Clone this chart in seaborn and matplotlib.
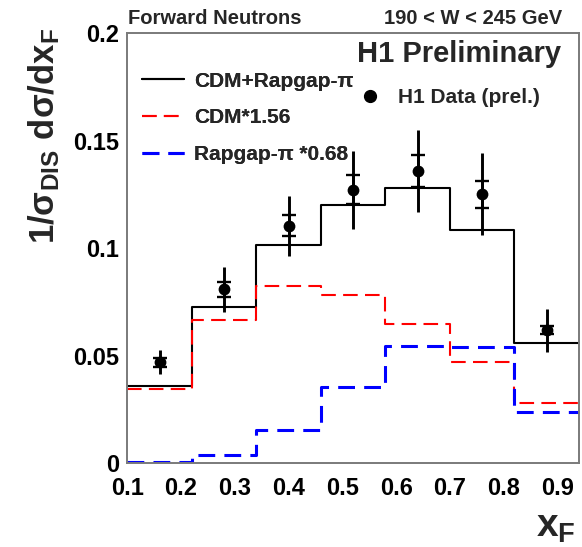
import numpy as np
import pandas as pd
import seaborn as sns
import matplotlib
matplotlib.use("Agg")
import matplotlib.pyplot as plt
from matplotlib.lines import Line2D
from matplotlib.legend import Legend

# ---- data ----
bin_edges = [0.10, 0.22, 0.34, 0.46, 0.58, 0.70, 0.82, 0.94]
cdm_plus_rapgap = [0.036, 0.0725, 0.1015, 0.120, 0.128, 0.1085, 0.056]
cdm_scaled = [0.0345, 0.0665, 0.0825, 0.0785, 0.065, 0.047, 0.028]
rapgap_scaled = [0.0005, 0.004, 0.0157, 0.0357, 0.0545, 0.0542, 0.024]

data_x = [0.16, 0.28, 0.40, 0.52, 0.64, 0.76, 0.88]
data_y = [0.047, 0.081, 0.1105, 0.1272, 0.1359, 0.1251, 0.062]
err_total = [0.0055, 0.0105, 0.014, 0.018, 0.019, 0.019, 0.010]
err_stat = [0.002, 0.0035, 0.005, 0.0067, 0.0073, 0.0064, 0.002]

x_ticks = [0.1, 0.2, 0.3, 0.4, 0.5, 0.6, 0.7, 0.8, 0.9]
x_tick_labels = ["0.1", "0.2", "0.3", "0.4", "0.5", "0.6", "0.7", "0.8", "0.9"]
y_ticks = [0.0, 0.05, 0.10, 0.15, 0.20]
y_tick_labels = ["0", "0.05", "0.1", "0.15", "0.2"]

series_labels = ["CDM+Rapgap-\u03c0", "CDM*1.56", "Rapgap-\u03c0 *0.68"]
data_label = "H1 Data (prel.)"

# ---- style ----
sns.set_theme(style="white")
plt.rcParams["font.family"] = ["Liberation Sans", "DejaVu Sans"]
plt.rcParams["font.weight"] = "bold"
plt.rcParams["mathtext.fontset"] = "custom"
plt.rcParams["mathtext.rm"] = "Liberation Sans:bold"
plt.rcParams["mathtext.bf"] = "Liberation Sans:bold"
plt.rcParams["mathtext.it"] = "Liberation Sans:bold"

frame_col = "#7a7a7a"

fig = plt.figure(figsize=(5.82, 5.47), dpi=100)
ax = fig.add_axes([0.2187, 0.1530, 0.7761, 0.7861])

def step_frame(vals):
    return pd.DataFrame({"x": bin_edges, "y": list(vals) + [vals[-1]]})

sns.lineplot(data=step_frame(cdm_plus_rapgap), x="x", y="y", ax=ax,
             drawstyle="steps-post", color="black", linewidth=1.5,
             sort=False, estimator=None)
sns.lineplot(data=step_frame(cdm_scaled), x="x", y="y", ax=ax,
             drawstyle="steps-post", color="#ff0000", linewidth=1.5,
             linestyle=(0, (7, 3.5)), sort=False, estimator=None)
sns.lineplot(data=step_frame(rapgap_scaled), x="x", y="y", ax=ax,
             drawstyle="steps-post", color="#0000ff", linewidth=2.2,
             linestyle=(0, (5.5, 3)), sort=False, estimator=None)
model_lines = list(ax.lines[:3])

# data points with total (line) and statistical (ticks) errors
ax.errorbar(data_x, data_y, yerr=err_total, fmt="none", ecolor="black",
            elinewidth=2.1, capsize=0, zorder=4)
ax.errorbar(data_x, data_y, yerr=err_stat, fmt="none", ecolor="black",
            elinewidth=2.1, capsize=4.8, capthick=1.7, zorder=4)
pts = pd.DataFrame({"x": data_x, "y": data_y})
sns.scatterplot(data=pts, x="x", y="y", ax=ax, color="black", s=72,
                edgecolor="black", linewidth=0, zorder=5)

ax.set_xlim(0.10, 0.94)
ax.set_ylim(0.0, 0.20)
ax.set_xticks(x_ticks)
ax.set_xticklabels(x_tick_labels)
ax.set_yticks(y_ticks)
ax.set_yticklabels(y_tick_labels)
ax.tick_params(axis="both", direction="in", length=10, width=1.1,
               color=frame_col, labelsize=17, labelcolor="black")
ax.tick_params(axis="x", pad=10)
ax.tick_params(axis="y", pad=6)
for lab in ax.get_xticklabels() + ax.get_yticklabels():
    lab.set_fontweight("bold")
for sp in ax.spines.values():
    sp.set_color(frame_col)
    sp.set_linewidth(1.4)
    sp.set_visible(True)
ax.set_xlabel("")
ax.set_ylabel("")

# legends
leg1 = ax.legend(model_lines, series_labels, loc="upper left",
                 bbox_to_anchor=(0.033, 0.911), frameon=False,
                 prop={"size": 15, "weight": "bold"}, handlelength=2.0,
                 handletextpad=0.5, labelspacing=0.85, borderpad=0,
                 borderaxespad=0)
ax.add_artist(leg1)
data_handle = Line2D([], [], marker="o", linestyle="none", color="black",
                     markersize=8.5)
leg2 = Legend(ax, [data_handle], [data_label], loc="upper left",
              bbox_to_anchor=(0.514, 0.872), frameon=False,
              prop={"size": 15, "weight": "bold"}, handlelength=1.0,
              handletextpad=0.85, borderpad=0, borderaxespad=0)
ax.add_artist(leg2)

# texts
ax.text(0.960, 0.953, "H1 Preliminary", transform=ax.transAxes,
        ha="right", va="center", fontsize=21, fontweight="bold")
fig.text(128 / 582, 1 - 18 / 547, "Forward Neutrons", ha="left",
         va="center", fontsize=14.5, fontweight="bold")
fig.text(562 / 582, 1 - 18 / 547, "190 < W < 245 GeV", ha="right",
         va="center", fontsize=14.5, fontweight="bold")
fig.text(44 / 582, 1 - 28 / 547,
         r"$\mathbf{1/\sigma_{DIS}\ d\sigma/dx_{F}}$", rotation=90,
         ha="center", va="top", fontsize=25)
fig.text(576 / 582, 1 - 545 / 547, r"$\mathbf{x_{F}}$",
         ha="right", va="bottom", fontsize=28)

fig.savefig("out.png", dpi=100)
